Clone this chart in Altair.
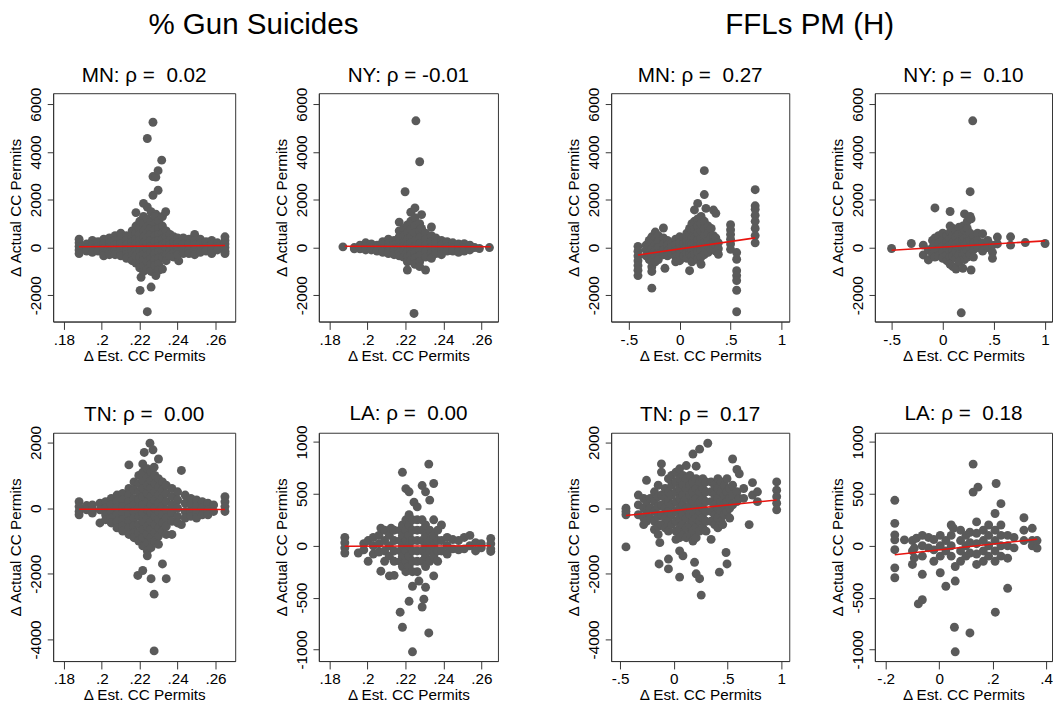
import altair as alt
import pandas as pd

FONT = "Liberation Sans"
DOT = "#5a5a5a"
FIT = "#e8140f"
FRAME = "#333333"

# Each panel: columns of (Δ est. permits, [Δ actual permits ...])
MN_SUICIDE = [
    (.188, [350, 200, 50, -100, -250]), (.192, [150, 0, -150]), (.195, [300, 100, -50, -200]),
    (.198, [250, 50, -150]), (.201, [350, 150, -50, -250, -350]), (.204, [400, 200, 0, -200, -300]),
    (.207, [500, 300, 100, -100, -300]), (.210, [600, 350, 150, -50, -250, -350]),
    (.213, [500, 300, 100, -100, -300, -450]), (.216, [700, 450, 250, 50, -150, -350, -550]),
    (.218, [1465, 900, 600, 350, 150, -100, -350, -650]),
    (.220, [1100, 800, 550, 300, 100, -150, -400, -700, -850]), (.2207, [-1244]), (.2202, [-1794]),
    (.222, [1850, 1300, 1000, 700, 450, 200, -50, -300, -550, -800, -1000]),
    (.224, [4570, 1700, 1200, 900, 650, 400, 150, -100, -350, -600, -900, -2688]),
    (.226, [1500, 1100, 800, 550, 300, 50, -200, -450, -700, -1000, -1655]),
    (.227, [5250, 2975, 2190]), (.2285, [2950, 1400, -1175]), (.2297, [2400, 3223]), (.2316, [3663]),
    (.228, [1300, 1000, 750, 500, 250, 0, -250, -500, -750]),
    (.230, [1100, 800, 550, 300, 50, -200, -450, -700, -950]),
    (.232, [1300, 900, 600, 350, 100, -150, -400, -900]), (.2337, [1500]),
    (.234, [700, 450, 200, -50, -300, -550]), (.236, [550, 300, 100, -150, -350]),
    (.238, [450, 250, 50, -200, -400]), (.2406, [-560]), (.240, [400, 200, 0, -200, -300]),
    (.243, [400, 150, -50, -250]), (.246, [350, 150, -100, -250]), (.249, [550, 300, 100, -100, -300]),
    (.252, [350, 150, -50, -200]), (.255, [250, 50, -150]), (.258, [300, 100, -100, -250]),
    (.261, [200, 50, -100]), (.265, [450, 300, 150, 0, -150, -250]),
]
MN_SUICIDE_FIT = ([.188, .265], [33, 88])

NY_SUICIDE = [
    (.187, [30]), (.193, [0, -50]), (.196, [100, -50]), (.199, [200, 50, -100]), (.202, [150, 0, -100]),
    (.205, [100, -50, -150]), (.208, [250, 100, -50, -200]), (.211, [350, 150, 0, -150, -250]),
    (.214, [300, 100, -100, -300]), (.2167, [1066, 700, 450, 200, 0, -200, -350]),
    (.219, [800, 500, 250, 50, -150, -400]), (.2198, [2338]),
    (.221, [950, 650, 350, 100, -150, -400, -600, -940]),
    (.2228, [1480, 1100, 750, 450, 200, -50, -300, -550]), (.2245, [-2760]),
    (.225, [1660, 1250, 900, 600, 300, 50, -200, -450, -700]), (.2255, [5310]),
    (.2275, [3595, 1000, 700, 400, 150, -100, -350, -600, -800]), (.2285, [1380, 800]),
    (.2306, [600, 350, 100, -150, -400, -940]), (.2337, [860, 500, 250, 0, -250, -450]),
    (.236, [400, 200, -50, -250]), (.239, [300, 100, -100, -300]), (.242, [250, 50, -150]),
    (.245, [200, 0, -150]), (.248, [150, -50, -200]), (.251, [165, 0, -150]), (.254, [100, -100]),
    (.2565, [0]), (.259, [-40]), (.2643, [0]),
]
NY_SUICIDE_FIT = ([.188, .265], [57, 30])

MN_FFL = [
    (-.41, [50, -150, -350, -550, -750, -950, -1175]), (-.33, [100, -100, -350]),
    (-.30, [300, 50, -200, -500]), (-.274, [450, 200, -50, -300, -550, -800, -1000, -1700]),
    (-.24, [650, 400, 150, -100, -350, -600]), (-.21, [500, 250, 0, -250, -500]),
    (-.16, [820, 400, 150, -100, -300]), (-.145, [-870]), (-.12, [300, 100, -150, -350]),
    (-.08, [200, 0, -250]), (-.04, [350, 100, -150, -400, -600]), (0.0, [450, 200, -50, -300, -550]),
    (0.04, [400, 150, -100, -350]), (0.07, [600, 300, 50, -200, -450]),
    (0.097, [800, 500, 200, -50, -300, -970]), (0.12, [1000, 700, 400, 150, -100, -350, -600]),
    (0.145, [1575, 1100, 750, 450, 200, -50, -300]),
    (0.177, [1850, 1200, 900, 600, 300, 50, -200, -500]),
    (0.21, [1300, 1000, 700, 400, 150, -100, -400, -700]),
    (0.242, [3223, 2220, 1100, 800, 500, 200, -50, -300]), (0.258, [1640]),
    (0.28, [900, 600, 300, 50, -200]), (0.31, [800, 450, 150, -100]),
    (0.332, [1570, 500, 200, -50]), (0.355, [1435, 400, 100, -150]), (0.38, [200, -50, -280]),
    (0.50, [960, 750, 550, 350, 150, -75]),
    (0.56, [-210, -490, -970, -1175, -1380, -1790, -2690]),
    (0.742, [2425, 1750, 1600, 1350, 1100, 800, 500, 200]),
]
MN_FFL_FIT = ([-.41, .742], [-310, 405])

NY_FFL = [
    (-.5, [-40]), (-.307, [170]), (-.19, [100, -310]), (-.14, [-100, -520]), (-.10, [300, 0, -300]),
    (-.076, [1660, 400, 150, -150, -400]), (-.04, [500, 200, -100, -350]),
    (0.0, [600, 300, 50, -200, -450]), (0.04, [500, 250, 0, -300, -550]),
    (0.072, [1510, 900, 650, 350, 100, -150, -400, -700]), (0.1, [800, 500, 200, -100, -350, -800]),
    (0.13, [700, 450, 150, -150, -450, -900]), (0.16, [850, 550, 250, 0, -300, -600]),
    (0.181, [-2735]), (0.197, [900, 600, 300, 0, -300, -870]),
    (0.213, [1410, 700, 400, 100, -200, -500]), (0.24, [1100, 800, 500, 200, -100, -400]),
    (0.268, [2340, 1300, 600, 300, 0, -300]), (0.277, [1200, -940]), (0.293, [5310]),
    (0.30, [500, 200, -100, -400]), (0.34, [600, 300, 0]), (0.39, [580, 200, -150]),
    (0.44, [300, 0]), (0.486, [100, -200, -450]), (0.534, [440, 150]), (0.663, [450, 100]),
    (0.807, [210]), (1.0, [170]),
]
NY_FFL_FIT = ([-.5, 1.0], [-110, 280])

TN_SUICIDE = [
    (.188, [200, 50, -100, -200]), (.192, [80, -50]), (.195, [100, -50, -150]),
    (.199, [150, -50, -450]), (.202, [200, 0, -200, -350]), (.205, [300, 100, -100, -300, -450]),
    (.208, [400, 200, 0, -200, -400, -600]), (.211, [450, 250, 50, -150, -350, -550, -700]),
    (.2143, [1320, 600, 400, 200, 0, -200, -400, -600, -800]),
    (.217, [800, 550, 300, 100, -100, -300, -550, -750, -900]), (.219, [-2050]),
    (.2195, [1000, 750, 500, 250, 0, -250, -500, -750, -1000]),
    (.2216, [1350, 1100, 850, 600, 350, 100, -150, -400, -650, -900, -1150, -1900]),
    (.2224, [1700, -1150]),
    (.224, [1200, 950, 700, 450, 200, -50, -300, -550, -800, -1050, -1300, -1450]),
    (.2254, [1980]),
    (.226, [1100, 850, 600, 350, 100, -150, -400, -650, -900, -1200, -2150]),
    (.227, [1780]), (.2276, [1250, -2620, -4350]),
    (.228, [1000, 750, 500, 250, 0, -250, -500, -750, -1000]),
    (.2299, [1500, 900, 650, 400, 150, -100, -350, -600, -850, -1100]),
    (.232, [800, 550, 300, 50, -200, -450, -700, -1700]),
    (.234, [700, 450, 200, -50, -300, -550, -800, -2150]),
    (.237, [600, 350, 100, -150, -400, -800]), (.24, [500, 250, 0, -250, -450]),
    (.242, [1150, -500]), (.244, [400, 150, -100, -300]), (.247, [300, 100, -100, -250]),
    (.25, [250, 50, -150, -300]), (.253, [200, 0, -200]), (.256, [150, -50, -200]),
    (.259, [100, -100]), (.265, [350, 200, 50, -100]),
]
TN_SUICIDE_FIT = ([.188, .265], [-30, -40])

LA_SUICIDE = [
    (.188, [80, 30, -20, -70]), (.1951, [-70]), (.198, [20, -40]), (.2003, [50, -150]),
    (.203, [80, 0, -80]), (.206, [100, 20, -60]), (.207, [170, -245]), (.209, [150, 50, -50, -150]),
    (.2115, [100, 0, -100, -290]), (.2124, [170]), (.214, [150, 50, -50, -150, -285]),
    (.2172, [150, 50, -50, -150, -640]), (.2184, [708, 200, 100, 0, -100, -200, -785]),
    (.2202, [550, 250, 150, 50, -50, -150, -250]),
    (.2219, [520, 300, 200, 100, 0, -100, -200, -535]),
    (.2237, [250, 150, 50, -50, -150, -250, -390, -1022]), (.2245, [420]),
    (.2262, [375, 250, 150, 50, -50, -150, -250]), (.2271, [-340]),
    (.2288, [580, 250, 150, 50, -50, -150, -590]), (.2297, [-515]),
    (.2306, [520, 200, 100, 0, -100, -200, -400]), (.2323, [787, -840]),
    (.2328, [440, 150, 50, -50, -150]), (.2349, [600, 250, 100, 0, -100, -290]),
    (.237, [150, 50, -50, -150]), (.239, [200, 50, -50]), (.242, [80, 0, -80]), (.245, [60, -30]),
    (.248, [50, -40]), (.251, [80, -30]), (.254, [100, 0]), (.257, [30, -50]), (.26, [20, -20]),
    (.265, [70, 20, -30, -55]),
]
LA_SUICIDE_FIT = ([.188, .265], [-5, 0])

TN_FFL = [
    (-.445, [0, -100, -200, -1180]), (-.33, [400, 100, -200]), (-.28, [300, 0, -300, -500]),
    (-.254, [850, 200, -100, -400]), (-.22, [300, 0, -300]), (-.18, [500, 200, -100, -400, -650]),
    (-.145, [700, 350, 50, -250, -550, -800]), (-.137, [-1700]), (-.13, [-1050]),
    (-.115, [1350, 1100, 400, 100, -200, -500]), (-.08, [600, 300, 0, -300, -600]),
    (-.05, [900, 500, 200, -100, -400, -700, -1550, -1850]),
    (-.02, [1000, 700, 400, 100, -200, -500]),
    (0.02, [1100, 800, 500, 200, -100, -400, -700, -950]),
    (0.054, [1200, 900, 600, 300, 0, -300, -600, -900, -1300, -2100]),
    (0.085, [1000, 700, 400, 100, -200, -500, -800, -1450]),
    (0.116, [1300, 900, 600, 300, 0, -300, -600, -900]),
    (0.15, [1000, 700, 400, 100, -200, -500, -800]),
    (0.178, [1650, 800, 500, 200, -100, -400, -700, -1000]), (0.193, [-1650]),
    (0.208, [1280, 900, 600, 300, 0, -300, -600, -900, -2000]),
    (0.24, [1800, 800, 500, 200, -100, -400, -700, -2150]), (0.255, [-2650]),
    (0.27, [900, 600, 300, 0, -300, -600]), (0.30, [800, 500, 200, -100, -400, -700]),
    (0.316, [1980]), (0.347, [800, 500, 200, -100, -400, -950]),
    (0.38, [700, 400, 100, -200, -500]), (0.41, [900, 600, 300, 0, -300, -600]),
    (0.424, [-1950]), (0.44, [800, 500, 200, -100, -400]), (0.455, [-500]),
    (0.47, [700, 400, 100, -200]), (0.486, [-1350]), (0.495, [900, 500, 200, -100, -1700]),
    (0.52, [600, 300, 0, -300]), (0.547, [1500, 700, 400, 100]), (0.587, [1180, 500, 200]),
    (0.609, [1050, 300]), (0.65, [600, 300]), (0.701, [-500]), (0.732, [780, 400]),
    (0.778, [500, 200]), (0.957, [800, 550, 350, 150, -50]),
]
TN_FFL_FIT = ([-.445, .957], [-220, 250])

LA_FFL = [
    (-.166, [438, 216, 105, 57, -38, -213, -308]), (-.13, [57]), (-.1, [50, -50, -180]),
    (-.093, [-22, -117]), (-.085, [73]), (-.078, [-560]), (-.063, [100, 0, -100, -275, -520]),
    (-.04, [80, -20]), (-.02, [60, -40, -150]), (0.004, [100, 0, -100, -260]),
    (0.025, [50, -50, -390]), (0.045, [200, 100, 0, -100]), (0.053, [170]), (0.057, [-785]),
    (0.06, [-1022, -340, -200]), (0.08, [150, 50, -50, -150]), (0.1, [100, 0, -100]),
    (0.115, [-840, 130, 30, -70]), (0.127, [787, 517]), (0.14, [230, 120, 20, -80, -180]),
    (0.145, [565]), (0.165, [150, 50, -50, -150]), (0.185, [200, 100, 0, -100]),
    (0.209, [311, 150, 50, -50, -150]), (0.21, [-640]), (0.213, [600]),
    (0.231, [406, 200, 100, 0, -100]), (0.256, [-410, 100, 0, -120]), (0.28, [80, -20]),
    (0.317, [270, 150, 50]), (0.348, [168, 50, 0]), (0.366, [-22, 50]),
]
LA_FFL_FIT = ([-.166, .366], [-86, 63])

SUICIDE_TICKS = [.18, .2, .22, .24, .26]
FFL_TICKS = [-.5, 0, .5, 1]
LA_FFL_TICKS = [-.2, 0, .2, .4]
Y_TOP_TICKS = [-2000, 0, 2000, 4000, 6000]
Y_TN_TICKS = [-4000, -2000, 0, 2000]
Y_LA_TICKS = [-1000, -500, 0, 500, 1000]


def flatten(columns):
    rows = [{"x": x, "y": y} for x, ys in columns for y in ys]
    return pd.DataFrame(rows)


def panel(title, columns, fit, xdom, xticks, ydom, yticks, width):
    x_enc = alt.X(
        "x:Q",
        scale=alt.Scale(domain=xdom, nice=False, zero=False),
        axis=alt.Axis(values=xticks, labelExpr="replace(toString(datum.value), '0.', '.')",
                      title="Δ Est. CC Permits", grid=False, tickSize=8,
                      labelPadding=3, titlePadding=1, labelFlush=False),
    )
    y_enc = alt.Y(
        "y:Q",
        scale=alt.Scale(domain=ydom, nice=False, zero=False),
        axis=alt.Axis(values=yticks, labelExpr="toString(datum.value)", labelAngle=270,
                      labelAlign="center", labelBaseline="bottom",
                      title="Δ Actual CC Permits", grid=False, tickSize=6,
                      labelPadding=4, titlePadding=5, labelFlush=False),
    )
    dots = alt.Chart(flatten(columns)).mark_circle(size=82, color=DOT, opacity=1).encode(
        x=x_enc, y=y_enc)
    line_df = pd.DataFrame({"x": fit[0], "y": fit[1]})
    line = alt.Chart(line_df).mark_line(color=FIT, strokeWidth=1.6).encode(x="x:Q", y="y:Q")
    return alt.layer(dots, line).properties(
        width=width, height=232,
        title=alt.TitleParams(title, fontSize=21, font=FONT, fontWeight="normal",
                              color="black", offset=1),
    )


NB = "\u00a0"
SUI_X = (.1743, .2704)
SUI_X2 = (.1743, .2688)

p1 = panel(f"MN: ρ ={NB} 0.02", MN_SUICIDE, MN_SUICIDE_FIT, SUI_X, SUICIDE_TICKS,
           (-3100, 6466), Y_TOP_TICKS, 185)
p2 = panel("NY: ρ = -0.01", NY_SUICIDE, NY_SUICIDE_FIT, SUI_X2, SUICIDE_TICKS,
           (-3100, 6466), Y_TOP_TICKS, 182)
p3 = panel(f"MN: ρ ={NB} 0.27", MN_FFL, MN_FFL_FIT, (-.674, 1.077), FFL_TICKS,
           (-3100, 6466), Y_TOP_TICKS, 181)
p4 = panel(f"NY: ρ ={NB} 0.10", NY_FFL, NY_FFL_FIT, (-.663, 1.068), FFL_TICKS,
           (-3100, 6466), Y_TOP_TICKS, 180)
p5 = panel(f"TN: ρ ={NB} 0.00", TN_SUICIDE, TN_SUICIDE_FIT, SUI_X, SUICIDE_TICKS,
           (-4660, 2300), Y_TN_TICKS, 185)
p6 = panel(f"LA: ρ ={NB} 0.00", LA_SUICIDE, LA_SUICIDE_FIT, SUI_X2, SUICIDE_TICKS,
           (-1111, 1089), Y_LA_TICKS, 182)
p7 = panel(f"TN: ρ ={NB} 0.17", TN_FFL, TN_FFL_FIT, (-.583, 1.074), FFL_TICKS,
           (-4660, 2300), Y_TN_TICKS, 181)
p8 = panel(f"LA: ρ ={NB} 0.18", LA_FFL, LA_FFL_FIT, (-.2405, .422), LA_FFL_TICKS,
           (-1111, 1089), Y_LA_TICKS, 180)


def group(title, top_pair, bottom_pair, gap):
    return alt.vconcat(
        alt.hconcat(*top_pair, spacing=gap),
        alt.hconcat(*bottom_pair, spacing=gap),
        spacing=38,
        title=alt.TitleParams(title, fontSize=30, font=FONT, fontWeight="normal",
                              color="black", anchor="middle", offset=26),
    )


left = group("% Gun Suicides", (p1, p2), (p5, p6), 38)
right = group("FFLs PM (H)", (p3, p4), (p7, p8), 40)

chart = alt.hconcat(left, right, spacing=68).properties(
    padding={"left": 8, "top": 4, "right": 0, "bottom": 0},
    background="white",
).configure_axis(
    labelFont=FONT, titleFont=FONT, labelFontSize=15.5, titleFontSize=15.5,
    labelColor="black", titleColor="black", titleFontWeight="normal",
    domainColor=FRAME, tickColor=FRAME, domainWidth=1, tickWidth=1,
).configure_view(stroke=FRAME, strokeWidth=1)

chart.save("out.html", embed_options={"renderer": "svg", "actions": False})
